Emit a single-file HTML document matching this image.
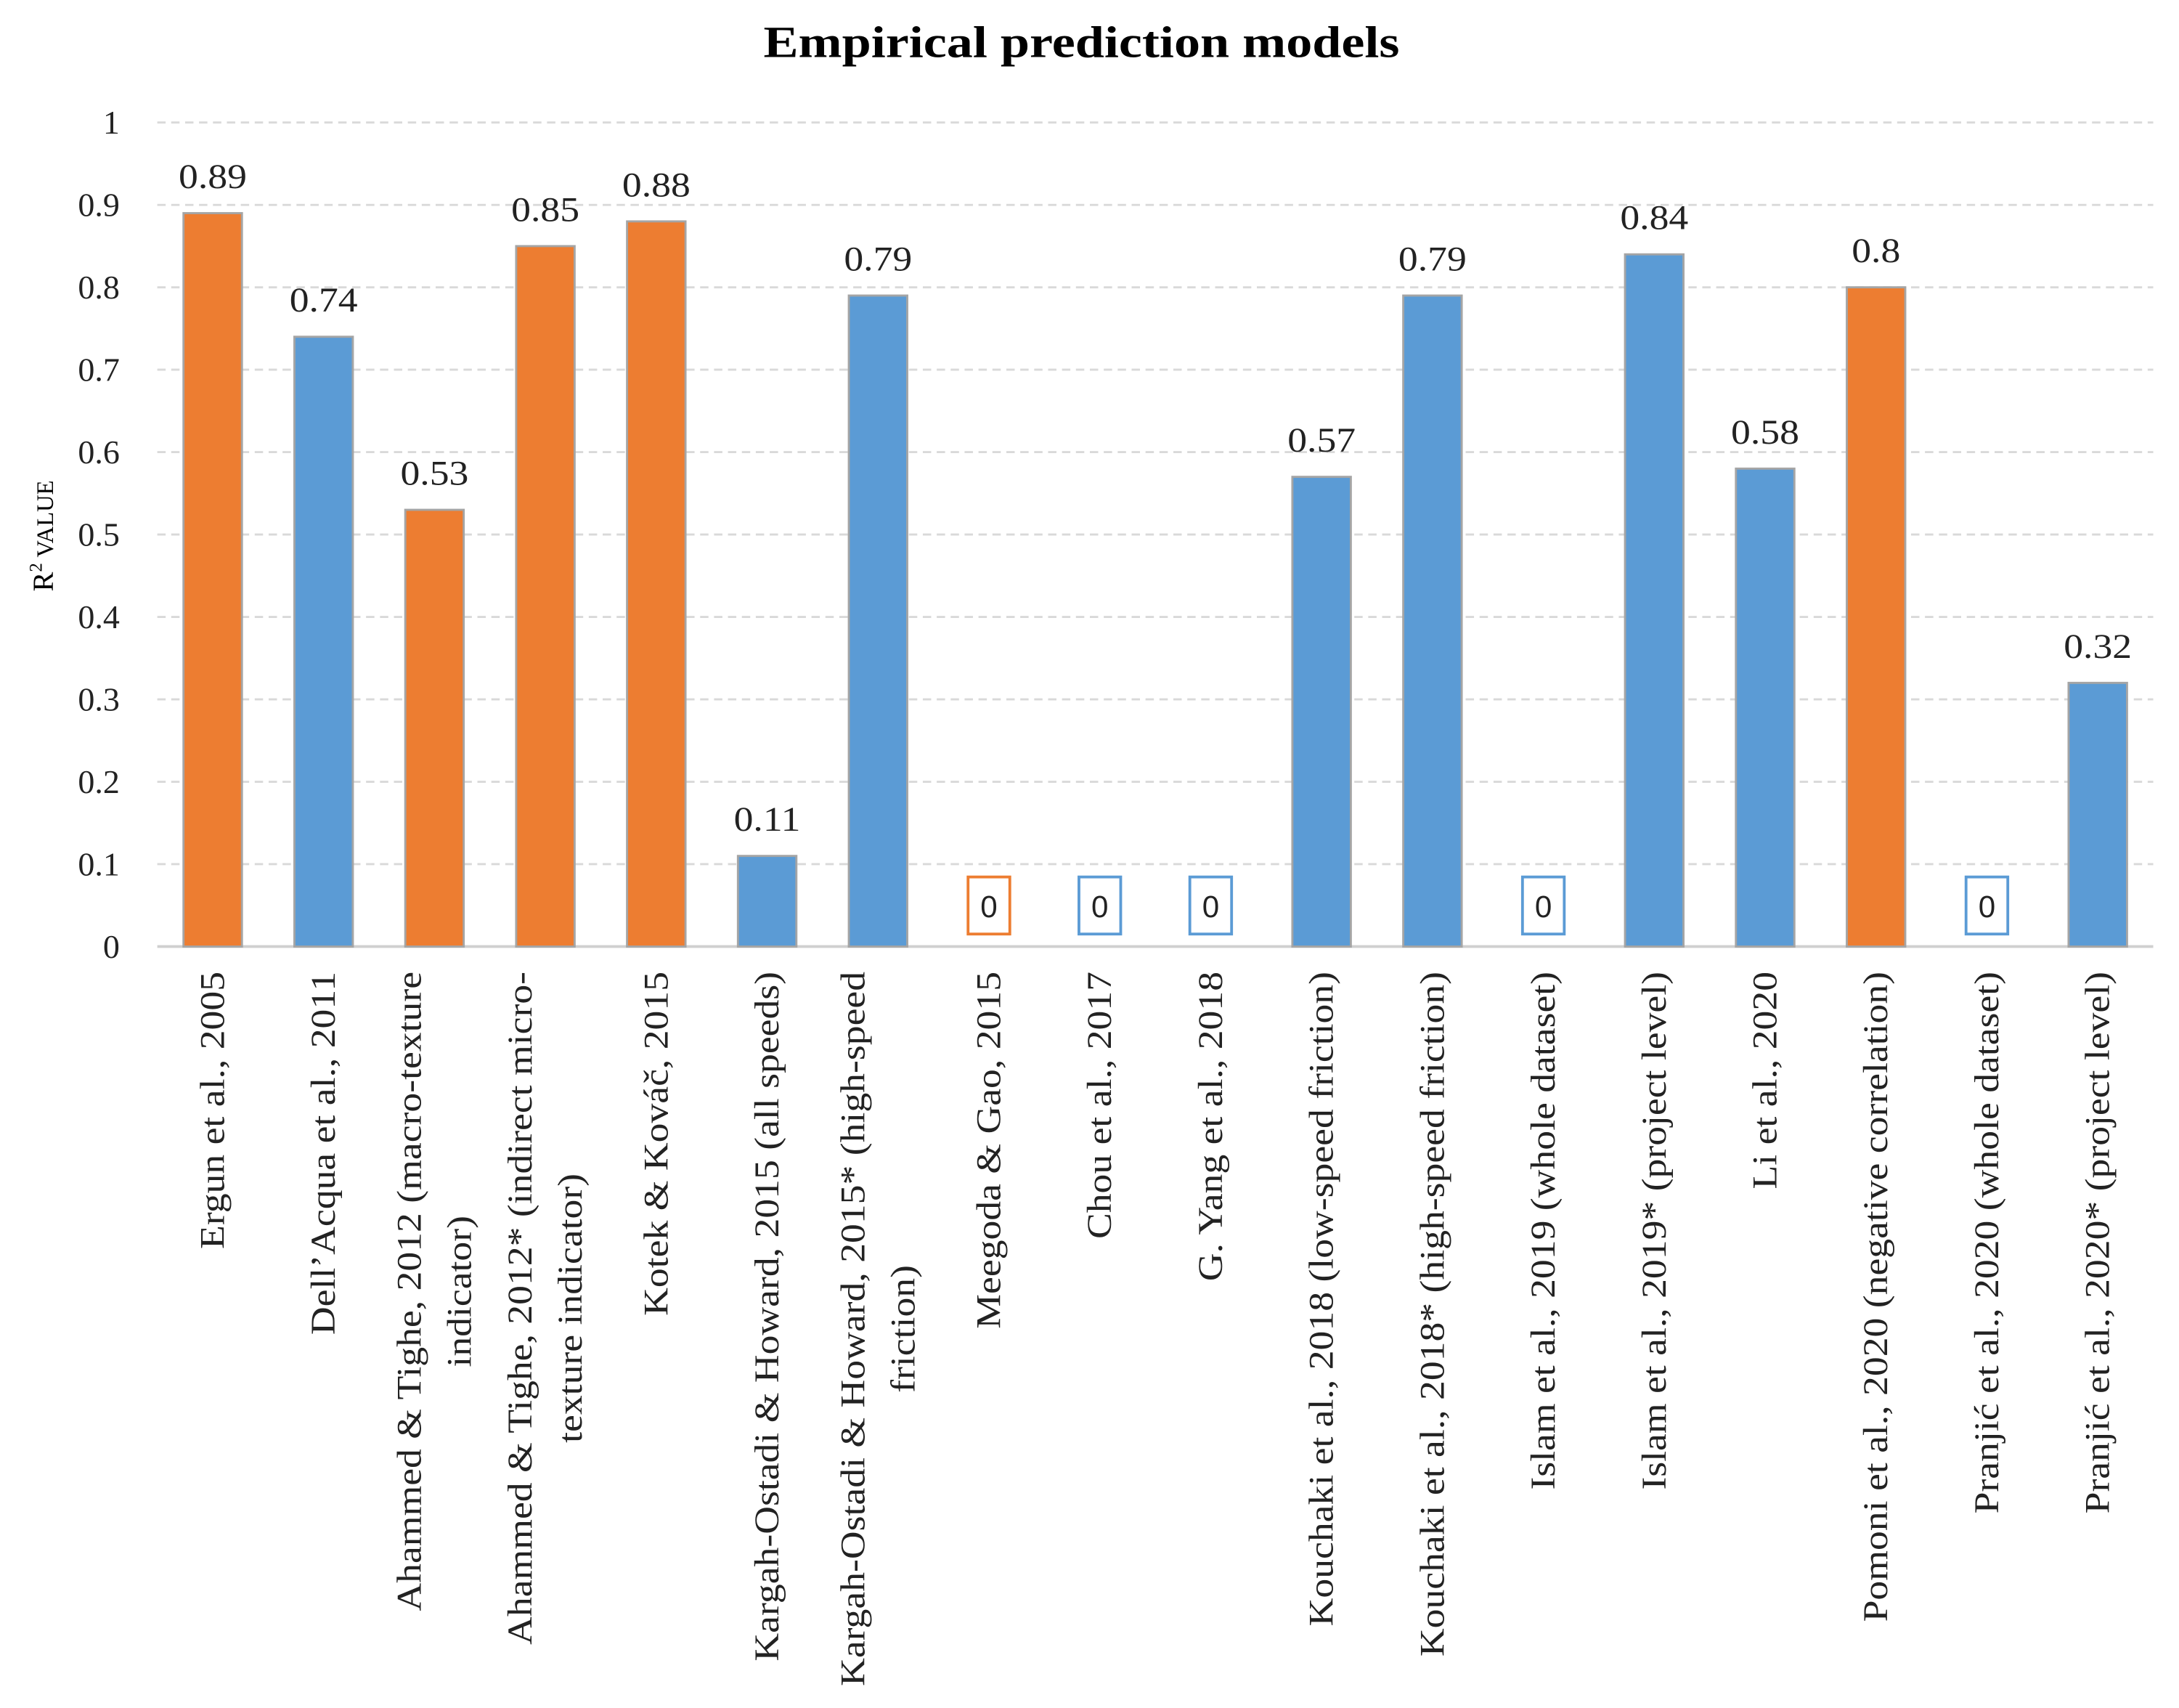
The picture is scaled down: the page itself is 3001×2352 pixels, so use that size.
<!DOCTYPE html>
<html><head><meta charset="utf-8"><style>html,body{margin:0;padding:0;background:#fff}svg{display:block}</style></head>
<body>
<svg id="chart" width="3001" height="2352" viewBox="0 0 1565.5 1227" preserveAspectRatio="none" xmlns="http://www.w3.org/2000/svg">
<rect x="0" y="0" width="1565.5" height="1227" fill="#fff"/>
<text x="777" y="41" text-anchor="middle" font-family="Liberation Serif, serif" font-weight="bold" font-size="32" textLength="457" lengthAdjust="spacingAndGlyphs">Empirical prediction models</text>
<text transform="translate(38,385) rotate(-90)" text-anchor="middle" font-family="Liberation Serif, serif" font-size="21">R<tspan font-size="13" dy="-8">2</tspan><tspan dy="8" font-size="17"> VALUE</tspan></text>
<g id="grid"></g><g id="bars"></g><g id="labels"></g>
</svg>
<script>
const categories = [
 ["Ergun et al., 2005"],
 ["Dell\u2019Acqua et al., 2011"],
 ["Ahammed & Tighe, 2012 (macro-texture","indicator)"],
 ["Ahammed & Tighe, 2012* (indirect micro-","texture indicator)"],
 ["Kotek & Kováč, 2015"],
 ["Kargah-Ostadi & Howard, 2015 (all  speeds)"],
 ["Kargah-Ostadi & Howard, 2015* (high-speed","friction)"],
 ["Meegoda & Gao, 2015"],
 ["Chou et al., 2017"],
 ["G. Yang et al., 2018"],
 ["Kouchaki et al., 2018 (low-speed friction)"],
 ["Kouchaki et al., 2018* (high-speed friction)"],
 ["Islam et al., 2019 (whole dataset)"],
 ["Islam et al., 2019* (project level)"],
 ["Li et al., 2020"],
 ["Pomoni et al., 2020 (negative correlation)"],
 ["Pranjić et al., 2020 (whole dataset)"],
 ["Pranjić et al., 2020* (project level)"]
];
const values = [0.89,0.74,0.53,0.85,0.88,0.11,0.79,0,0,0,0.57,0.79,0,0.84,0.58,0.8,0,0.32];
const seriesColor = ["o","b","o","o","o","b","b","o","b","b","b","b","b","b","b","o","b","b"];
const yTicks = [0,0.1,0.2,0.3,0.4,0.5,0.6,0.7,0.8,0.9,1];
const yTickLabels = ["0","0.1","0.2","0.3","0.4","0.5","0.6","0.7","0.8","0.9","1"];

const NS="http://www.w3.org/2000/svg";
const X0=113, X1=1547, Y0=680, Y1=88;
const colors={o:"#ED7D31",b:"#5B9BD5"};
const step=(X1-X0)/categories.length;
const y=v=>Y0-(Y0-Y1)*v;
const xc=i=>X0+step*(i+0.5);
const WIDEN=1.12;
function mk(tag,attrs,parent){const e=document.createElementNS(NS,tag);for(const k in attrs)e.setAttribute(k,attrs[k]);parent.appendChild(e);return e;}
function widen(t){const L=t.getComputedTextLength();t.setAttribute('textLength',L*WIDEN);t.setAttribute('lengthAdjust','spacingAndGlyphs');return L*WIDEN;}
const grid=document.getElementById('grid'),bars=document.getElementById('bars'),labels=document.getElementById('labels');
yTicks.forEach((t,i)=>{
  if(t>0){const l=mk('line',{x1:X0,x2:X1,y1:y(t),y2:y(t),stroke:'#d9d9d9','stroke-width':1.5,'stroke-dasharray':'6 4'},grid);
  
  }
  const tx=mk('text',{x:86,y:y(t)+8,'text-anchor':'end','font-family':'Liberation Serif, serif','font-size':24,fill:'#222'},grid);
  tx.textContent=yTickLabels[i];
  
  
});
const ax=mk('line',{x1:X0,x2:X1,y1:Y0,y2:Y0,stroke:'#d0d0d0','stroke-width':2},grid);


const bw=42;
values.forEach((v,i)=>{
  const cx=xc(i), col=colors[seriesColor[i]];
  if(v>0){
    const r=mk('rect',{x:cx-bw/2,y:y(v),width:bw,height:Y0-y(v),fill:col,stroke:'#a5a5a5','stroke-width':1.5},bars);
    
    
    const t=mk('text',{x:cx,y:y(v)-18,'text-anchor':'middle','font-family':'Liberation Serif, serif','font-size':25,fill:'#222'},labels);
    t.textContent=String(v);
    
    
    widen(t);
  } else {
    const b=mk('rect',{x:cx-15,y:630,width:30,height:41,fill:'#fff',stroke:col,'stroke-width':2},labels);
    
    
    const t=mk('text',{x:cx,y:659,'text-anchor':'middle','font-family':'Liberation Sans, sans-serif','font-size':22,fill:'#222'},labels);
    t.textContent="0";
    
    
  }
  const lines=categories[i], n=lines.length;
  const els=lines.map((ln,j)=>{
    const lx=cx+(j-(n-1)/2)*36;
    const t=mk('text',{transform:`translate(${lx},0) rotate(-90)`,'text-anchor':'middle','dominant-baseline':'central','font-family':'Liberation Serif, serif','font-size':25,fill:'#222'},labels);
    t.textContent=ln;
    
    
    return [t,lx,widen(t)];
  });
  const maxL=Math.max(...els.map(e=>e[2]));
  const mid=698+maxL/2;
  els.forEach(([t,lx])=>t.setAttribute('transform',`translate(${lx},${mid}) rotate(-90)`));
});
</script>
</body></html>
